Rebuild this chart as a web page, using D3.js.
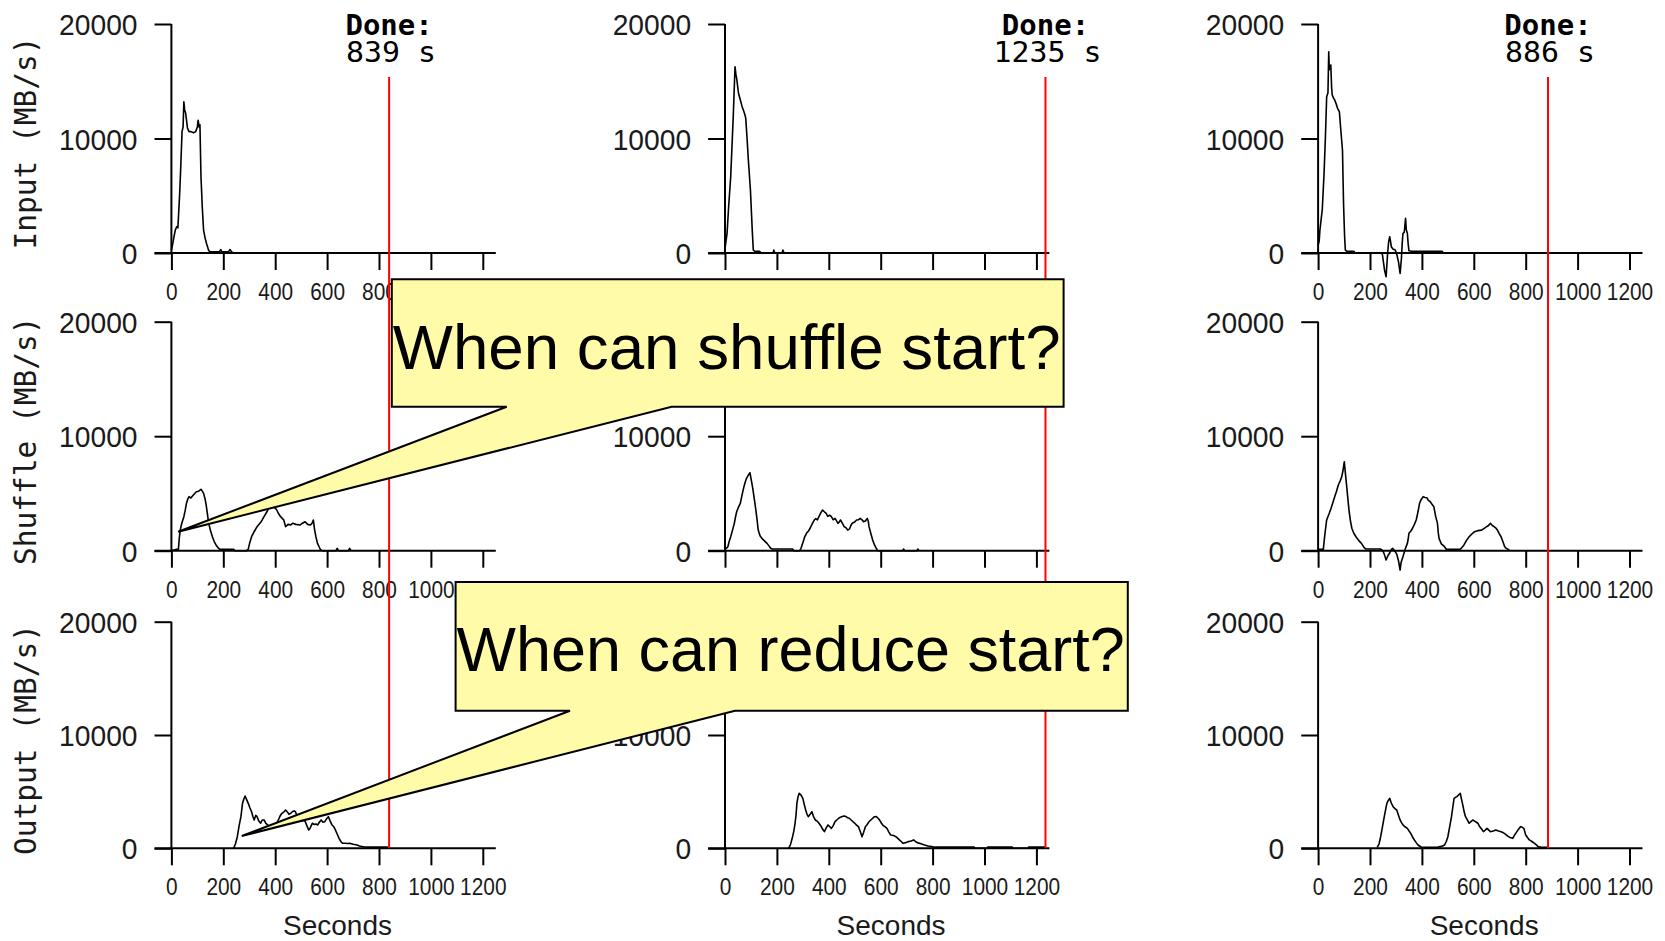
<!DOCTYPE html>
<html>
<head>
<meta charset="utf-8">
<script src="https://cdn.jsdelivr.net/npm/d3@7"></script>
<style>
body { margin: 0; background: #fff; }
svg { display: block; }
</style>
</head>
<body>
<div id="container"></div>
<script>
// panel layout (pixels)
var width = 1665, height = 941;
var colLeft = [171.4, 725, 1318.1];
var plotW = 311.4;
var rowTop = [24, 321.7, 621.7];
var rowBot = [253, 550.7, 848.3];

// chart values: [seconds, MB/s]
var rowNames = ["Input", "Shuffle", "Output"];
var doneTimes = [839, 1235, 886];
var xTicks = [0, 200, 400, 600, 800, 1000, 1200];
var yTicks = [0, 10000, 20000];

var input1 = [[0,260],[5,800],[9.5,1370],[15,2000],[20.6,2300],[25,2200],[28,3500],[31.6,5070],[36,7500],[41,10600],[45,11000],[48,13200],[51,12500],[55,12200],[62,10900],[68,10600],[75.6,10600],[85,10500],[93.5,10600],[100,11000],[103,11600],[107,11000],[110,11200],[114,6660],[119,4000],[124,2000],[130,1300],[135,850],[144,200],[150,100],[185,100],[190,300],[195,100],[220,100],[226,300],[232,100],[240,0],[839,0]];
var input2 = [[0,400],[8,1720],[14,4040],[22,6660],[32,12050],[38.6,16270],[42,15600],[45,15250],[52,13950],[60,13300],[66,12780],[72,12400],[77,12050],[80,11760],[85,10000],[90,8120],[98,5500],[105,2000],[109,260],[114,150],[133,150],[140,0],[185,0],[188,250],[192,0],[220,0],[223,250],[228,0],[1235,0]];
var input3 = [[0,700],[4,1000],[7,2000],[12,3000],[16,3760],[23,6960],[28,10000],[33,13650],[38,14000],[41,17580],[43,16000],[45,16270],[49,16420],[52,14500],[54.5,13800],[60,13500],[64,13360],[70,13000],[75,12640],[82,12340],[87,10890],[94,8950],[98,4340],[102,1500],[105,260],[111,150],[138,150],[142,0],[245,0],[248,-170],[256,-1500],[262,-2070],[268,0],[272,1000],[276,1420],[280,900],[282,550],[290,300],[296,300],[302,0],[310,-800],[316,-1780],[321,-500],[324,800],[327,1720],[332,1800],[337,3030],[340,2000],[344,1720],[347,800],[350,200],[360,150],[478,150],[482,0],[886,0]];

var shuffle1 = [[0,0],[20,120],[27,120],[30,1000],[34,1800],[40,2400],[48,2970],[53,3500],[58,4140],[63,4500],[68,4720],[75,4600],[82,4800],[90,5000],[96,5150],[105,5200],[114,5360],[119,5200],[124,5010],[130,4500],[135,3840],[140,3000],[144,2390],[150,1800],[158,1220],[165,800],[172,500],[180,250],[186,130],[240,130],[245,0],[290,0],[296,120],[302,700],[309,1220],[320,1700],[330,2100],[345,2500],[357,2970],[368,3400],[378,3840],[385,4000],[392,4140],[400,3700],[405,3600],[412,3270],[420,3000],[433,2680],[440,2100],[450,2300],[460,2250],[467,2390],[480,2300],[495,2240],[505,2400],[515,2530],[525,2300],[536,2240],[542,2400],[547,2680],[552,1800],[557,1200],[563,640],[570,300],[574,120],[580,0],[634,0],[639,200],[644,0],[682,0],[687,200],[692,0]];
var shuffle2 = [[0,120],[5,200],[11,350],[16,800],[22,1220],[29,1800],[36,2390],[40,2900],[45,3400],[52,3800],[59,4140],[66,4900],[73,5590],[78,6000],[83,6320],[90,6600],[96,6810],[101,6200],[107,5450],[113,4500],[119,3550],[124,2600],[128,1800],[135,1300],[142,1080],[150,900],[162,640],[170,400],[176,210],[183,150],[260,150],[265,0],[288,0],[293,210],[300,700],[307,1200],[314,1520],[321,1700],[328,1960],[335,2300],[344,2680],[350,2800],[356,2700],[362,2970],[369,3300],[376,3550],[383,3400],[390,3270],[396,3000],[403,3100],[410,2970],[417,2700],[424,2820],[430,2600],[435,2390],[440,2500],[445,2680],[452,2400],[459,2100],[466,2000],[473,1800],[480,1900],[485,2200],[490,2390],[500,2500],[507,2680],[514,2700],[521,2820],[528,2700],[534,2530],[541,2600],[548,2820],[552,2600],[555,2100],[562,1500],[569,930],[576,500],[583,210],[588,0],[685,0],[688,150],[692,0],[740,0],[743,150],[747,0]];
var shuffle3 = [[0,120],[20,120],[26,1400],[33,2680],[42,3200],[50,3700],[57,4200],[64,4720],[71,5200],[78,5740],[85,6100],[91,6460],[96,7000],[101,7770],[105,6800],[109,5890],[114,4700],[119,3550],[124,2700],[130,1960],[138,1500],[146,1220],[156,900],[167,640],[175,350],[180,210],[185,150],[240,150],[249,0],[255,-300],[262,-810],[270,-400],[276,-200],[282,100],[287,200],[295,0],[303,-300],[310,-900],[316,-1690],[320,-1000],[327,-520],[335,100],[344,640],[347,1000],[350,1520],[357,1700],[364,1960],[371,2300],[378,2680],[385,3400],[391,4140],[398,4500],[405,4720],[412,4650],[419,4630],[425,4400],[432,4280],[439,4050],[446,3840],[453,3000],[460,2390],[463,1600],[466,1080],[475,600],[487,350],[494,120],[548,120],[555,300],[562,500],[572,900],[582,1220],[592,1450],[603,1660],[615,1750],[630,1800],[640,1950],[650,2100],[657,2200],[664,2390],[671,2200],[678,2100],[684,2000],[691,1800],[698,1500],[705,1220],[712,800],[719,350],[725,200],[732,120],[738,0]];

var output1 = [[240,0],[247,400],[254,1020],[261,2000],[268,2790],[274,3970],[280,4400],[284,4620],[290,4300],[296,3970],[302,3600],[309,3230],[314,2800],[319,2500],[325,2900],[330,2790],[337,2400],[344,2210],[350,2500],[357,2500],[364,2200],[371,2060],[380,1950],[392,1910],[400,2100],[406,2210],[412,2500],[420,2900],[426,3090],[433,3200],[440,3380],[447,3200],[453,3000],[460,3090],[467,3250],[473,3300],[478,3230],[485,2800],[490,2700],[495,2500],[503,2400],[510,2500],[516,2350],[522,2000],[529,1620],[535,1800],[543,2210],[550,2100],[557,2150],[564,2060],[570,2300],[577,2500],[584,2300],[591,2350],[598,2600],[605,2790],[612,2400],[619,2060],[626,1900],[632,1620],[640,1200],[646,880],[653,600],[660,440],[670,450],[680,420],[687,440],[700,350],[715,290],[725,200],[735,150],[745,120],[756,100],[800,100],[832,100],[839,0]];
var output2 = [[245,0],[252,300],[259,880],[265,1500],[270,2210],[274,3000],[277,3970],[281,4500],[286,4850],[293,4700],[300,4410],[305,3900],[311,3380],[316,3000],[321,2790],[328,3000],[335,3230],[341,2800],[348,2500],[355,2400],[362,2210],[369,2000],[376,1700],[383,1470],[390,1800],[397,2060],[404,1900],[410,1760],[417,2000],[424,2350],[431,2500],[438,2650],[445,2750],[452,2800],[459,2850],[466,2800],[472,2700],[479,2650],[486,2500],[493,2350],[500,2210],[507,2050],[514,1910],[521,1500],[528,1020],[534,1400],[541,1910],[548,2100],[555,2350],[562,2500],[569,2650],[576,2790],[583,2800],[590,2650],[597,2450],[603,2210],[610,2000],[617,1900],[624,1760],[631,1450],[638,1180],[645,1150],[652,1100],[658,1030],[665,900],[672,740],[679,600],[686,440],[696,500],[707,590],[717,650],[727,740],[734,600],[741,500],[755,400],[769,290],[782,200],[796,150],[810,100],[960,100],[965,0],[1010,0],[1012,100],[1107,100],[1110,0],[1168,0],[1170,100],[1237,100]];
var output3 = [[228,90],[235,400],[241,1020],[248,1900],[255,2790],[260,3400],[265,3970],[270,4200],[276,4410],[282,4000],[289,3670],[296,3500],[303,3380],[310,2900],[316,2500],[322,2250],[327,2060],[335,1900],[344,1760],[350,1550],[357,1320],[364,1000],[371,730],[378,500],[385,290],[398,90],[460,90],[470,150],[480,200],[487,290],[494,600],[500,1020],[507,1900],[514,2790],[519,3600],[524,4410],[530,4500],[535,4560],[541,4700],[548,4850],[553,4300],[559,3670],[563,3200],[568,2790],[575,2500],[582,2210],[589,2350],[596,2500],[603,2400],[610,2300],[616,2210],[623,1900],[630,1700],[637,1470],[644,1600],[651,1760],[658,1600],[664,1470],[671,1500],[678,1550],[685,1620],[692,1550],[699,1500],[705,1470],[712,1400],[719,1300],[725,1180],[732,1050],[740,950],[750,880],[758,1200],[766,1470],[773,1700],[780,1910],[787,1850],[793,1760],[800,1180],[807,950],[814,740],[824,600],[834,440],[841,300],[848,150],[860,90],[875,90],[886,90]];

var series = [[input1, input2, input3], [shuffle1, shuffle2, shuffle3], [output1, output2, output3]];

// callouts: text, panel row, tip in data coords (col 0)
var calloutText = ["When can shuffle start?", "When can reduce start?"];
var calloutRow = [1, 2];
var calloutTip = [[26, 1660], [271, 1085]];
// box [left, top, right, bottom] and wedge base x's (pixels)
var calloutBox = [[391.8, 279.3, 1063.6, 406.7], [455.6, 582, 1127.8, 710.7]];
var calloutBase = [[506.7, 671.7], [570, 735]];

var sans = "'Liberation Sans', Arial, sans-serif";
var mono = "'DejaVu Sans Mono', monospace";

var svg = d3.select("#container").append("svg")
	.attr("width", width)
	.attr("height", height);
svg.append("rect").attr("width", width).attr("height", height).style("fill", "#fff");

var xScales = colLeft.map(function(l) {
	return d3.scaleLinear().domain([0, 1200]).range([l, l + plotW]);
});
var yScales = rowTop.map(function(t, i) {
	return d3.scaleLinear().domain([0, 20000]).range([rowBot[i], t]);
});

for (var r = 0; r < 3; r++) {
	for (var c = 0; c < 3; c++) {
		drawPanel(r, c);
	}
}

function drawPanel(r, c) {
	var x = xScales[c], y = yScales[r];
	var g = svg.append("g").attr("class", "panel");

	// x axis
	var xa = g.append("g")
		.attr("transform", "translate(0," + y(0) + ")")
		.call(d3.axisBottom(x).tickValues(xTicks).tickSize(17).tickSizeOuter(0).tickFormat(d3.format("d")));
	xa.select(".domain").remove();
	xa.selectAll(".tick line").attr("stroke", "#000").attr("stroke-width", 2);
	xa.selectAll(".tick text")
		.attr("y", 47).attr("dy", null)
		.style("font-family", sans).style("font-size", "23.5px").style("fill", "#1a1a1a")
		.attr("textLength", function(d) { return String(d).length * 11.6; })
		.attr("lengthAdjust", "spacingAndGlyphs");
	g.append("line")
		.attr("x1", x(-65)).attr("x2", x(1250))
		.attr("y1", y(0)).attr("y2", y(0))
		.attr("stroke", "#000").attr("stroke-width", 2);

	// y axis
	var ya = g.append("g")
		.attr("transform", "translate(" + x(0) + ",0)")
		.call(d3.axisLeft(y).tickValues(yTicks).tickSize(x(0) - x(-65)).tickSizeOuter(0).tickFormat(d3.format("d")));
	ya.select(".domain").remove();
	ya.selectAll(".tick line").attr("stroke", "#000").attr("stroke-width", 2);
	ya.selectAll(".tick text")
		.attr("x", -(x(0) - x(-65)) - 17).attr("dy", "10.5")
		.style("font-family", sans).style("font-size", "30px").style("fill", "#1a1a1a")
		.attr("textLength", function(d) { return String(d).length * 15.7; })
		.attr("lengthAdjust", "spacingAndGlyphs");
	g.append("line")
		.attr("x1", x(0)).attr("x2", x(0))
		.attr("y1", y(0)).attr("y2", y(20000))
		.attr("stroke", "#000").attr("stroke-width", 2);

	// data
	g.append("path")
		.datum(series[r][c])
		.attr("d", d3.line().x(function(d) { return x(d[0]); }).y(function(d) { return y(d[1]); }))
		.attr("fill", "none")
		.attr("stroke", "#000")
		.attr("stroke-width", 1.6)
		.attr("stroke-linejoin", "round");

	if (c == 0) {
		var yc = (rowTop[r] + rowBot[r]) / 2 + 4.5;
		g.append("text")
			.attr("transform", "translate(35.5," + yc + ") rotate(-90)")
			.attr("text-anchor", "middle")
			.style("font-family", mono).style("font-size", "29.5px").style("fill", "#1a1a1a")
			.text(rowNames[r] + " (MB/s)");
	}
	if (r == 2) {
		g.append("text")
			.attr("x", x(640)).attr("y", 935)
			.attr("text-anchor", "middle")
			.style("font-family", sans).style("font-size", "28px").style("fill", "#1a1a1a")
			.text("Seconds");
	}
}

// done markers
doneTimes.forEach(function(t, c) {
	var x = xScales[c];
	svg.append("line")
		.attr("x1", x(t)).attr("x2", x(t))
		.attr("y1", 77).attr("y2", yScales[2](0))
		.attr("stroke", "#ff0000").attr("stroke-width", 2);
	svg.append("text")
		.attr("x", x(t)).attr("y", 35)
		.attr("text-anchor", "middle")
		.style("font-family", mono).style("font-size", "29px").style("font-weight", "bold")
		.text("Done:");
	var lbl = t + " s";
	svg.append("text")
		.attr("x", x(t) + 2).attr("y", 61.7)
		.attr("text-anchor", "middle")
		.style("font-family", mono).style("font-size", "28px")
		.attr("textLength", lbl.length * 18)
		.attr("lengthAdjust", "spacingAndGlyphs")
		.text(lbl);
});

// callouts
calloutText.forEach(function(txt, i) {
	var b = calloutBox[i];
	var tipX = xScales[0](calloutTip[i][0]);
	var tipY = yScales[calloutRow[i]](calloutTip[i][1]);
	var p = d3.path();
	p.moveTo(b[0], b[1]);
	p.lineTo(b[2], b[1]);
	p.lineTo(b[2], b[3]);
	p.lineTo(calloutBase[i][1], b[3]);
	p.lineTo(tipX, tipY);
	p.lineTo(calloutBase[i][0], b[3]);
	p.lineTo(b[0], b[3]);
	p.closePath();
	svg.append("path")
		.attr("d", p.toString())
		.attr("fill", "#fffba8")
		.attr("stroke", "#000")
		.attr("stroke-width", 2)
		.attr("stroke-linejoin", "miter");
	svg.append("text")
		.attr("x", b[0] + 1)
		.attr("y", b[1] + 89.3)
		.style("font-family", sans).style("font-size", "63px").style("fill", "#000")
		.attr("textLength", b[2] - b[0] - 4)
		.attr("lengthAdjust", "spacingAndGlyphs")
		.text(txt);
});
</script>
</body>
</html>
